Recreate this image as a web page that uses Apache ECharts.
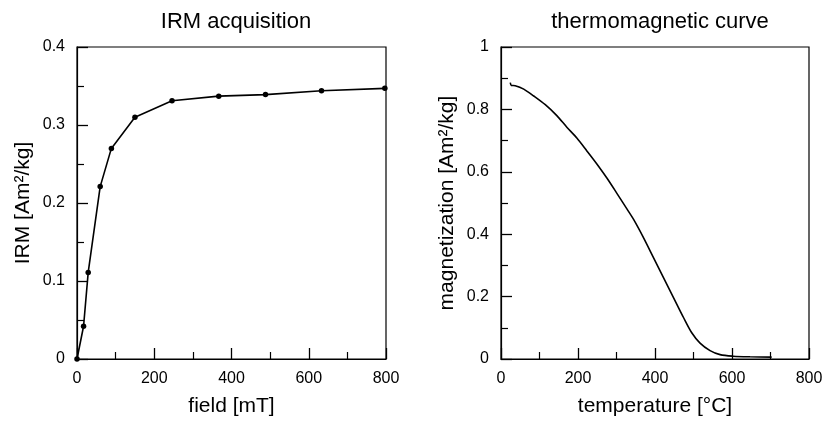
<!DOCTYPE html>
<html>
<head>
<meta charset="utf-8">
<script src="https://cdn.jsdelivr.net/npm/echarts@6/dist/echarts.min.js"></script>
<style>
html,body{margin:0;padding:0;background:#fff;}
#c{width:826px;height:422px;}
</style>
</head>
<body>
<div id="c"></div>
<script>
// IRM acquisition data
var irmField = [0, 17, 29, 60, 89, 150, 246, 367, 488, 633, 797];
var irmValue = [0, 0.042, 0.111, 0.221, 0.270, 0.310, 0.331, 0.337, 0.339, 0.344, 0.347];
// thermomagnetic curve data
var thermoTemp = [24, 27, 37, 59, 85, 115, 145, 171, 197, 223, 249, 275, 301, 327, 344, 370, 396, 422, 448, 474, 495, 517, 543, 569, 603, 647, 703];
var thermoMag = [0.886, 0.877, 0.876, 0.865, 0.843, 0.815, 0.780, 0.743, 0.708, 0.667, 0.625, 0.580, 0.531, 0.481, 0.448, 0.389, 0.325, 0.261, 0.197, 0.133, 0.085, 0.051, 0.027, 0.014, 0.009, 0.007, 0.006];

var titles = ['IRM acquisition', 'thermomagnetic curve'];
var xNames = ['field [mT]', 'temperature [°C]'];
var yNames = ['IRM [Am²/kg]', 'magnetization [Am²/kg]'];

var FONT = 'Liberation Sans, Arial, sans-serif';

function zip(a, b) { return a.map(function (v, i) { return [v, b[i]]; }); }

var grids = [
  {left: 77, top: 47, width: 309, height: 313},
  {left: 501, top: 47, width: 308, height: 313}
];

function xAxis(i) {
  return {
    type: 'value', gridIndex: i, min: 0, max: 800, interval: 200,
    name: xNames[i], nameLocation: 'middle', nameGap: 37,
    nameTextStyle: {fontFamily: FONT, fontSize: 21, color: '#000'},
    axisLine: {show: true, lineStyle: {color: '#000', width: 1.2}},
    axisTick: {show: true, inside: true, length: 11, lineStyle: {color: '#000', width: 1.3}},
    minorTick: {show: true, splitNumber: 2, length: 7, lineStyle: {color: '#000', width: 1.2}},
    axisLabel: {fontFamily: FONT, fontSize: 16, color: '#000', margin: 12},
    splitLine: {show: false}
  };
}
function yAxis(i, max, interval, gap) {
  return {
    type: 'value', gridIndex: i, min: 0, max: max, interval: interval,
    name: yNames[i], nameLocation: 'middle', nameGap: gap,
    nameTextStyle: {fontFamily: FONT, fontSize: 21, color: '#000'},
    axisLine: {show: true, lineStyle: {color: '#000', width: 1.2}},
    axisTick: {show: true, inside: true, length: 11, lineStyle: {color: '#000', width: 1.3}},
    minorTick: {show: true, splitNumber: 2, length: 7, lineStyle: {color: '#000', width: 1.2}},
    axisLabel: {fontFamily: FONT, fontSize: 16, color: '#000', margin: 12},
    splitLine: {show: false}
  };
}

var chart = echarts.init(document.getElementById('c'), null, {renderer: 'canvas'});
chart.setOption({
  backgroundColor: '#fff',
  animation: false,
  title: [
    {text: titles[0], left: 231, top: 6, textAlign: 'center',
     textStyle: {fontFamily: FONT, fontSize: 22, fontWeight: 'normal', color: '#000'}},
    {text: titles[1], left: 655, top: 6, textAlign: 'center',
     textStyle: {fontFamily: FONT, fontSize: 22, fontWeight: 'normal', color: '#000'}}
  ],
  grid: grids.map(function (g) {
    return Object.assign({show: true, borderColor: '#000', borderWidth: 1.2, backgroundColor: 'transparent'}, g);
  }),
  xAxis: [xAxis(0), xAxis(1)],
  yAxis: [yAxis(0, 0.4, 0.1, 43), yAxis(1, 1, 0.2, 43)],
  series: [
    {
      type: 'line', xAxisIndex: 0, yAxisIndex: 0,
      data: zip(irmField, irmValue),
      symbol: 'circle', symbolSize: 5.5,
      itemStyle: {color: '#000'},
      lineStyle: {color: '#000', width: 1.6},
      clip: false
    },
    {
      type: 'line', xAxisIndex: 1, yAxisIndex: 1,
      data: zip(thermoTemp, thermoMag),
      symbol: 'none', smooth: 0.3,
      lineStyle: {color: '#000', width: 1.6}
    }
  ]
});
</script>
</body>
</html>
